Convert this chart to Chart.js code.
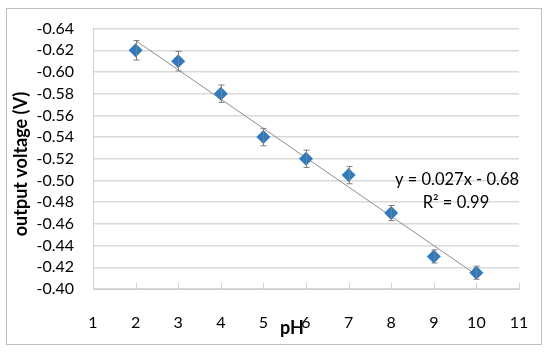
<!DOCTYPE html>
<html>
<head>
<meta charset="utf-8">
<script src="https://cdn.jsdelivr.net/npm/chart.js@4"></script>
<style>
  html, body { margin: 0; padding: 0; background: #fff; }
  #wrap { position: relative; width: 550px; height: 354px; }
</style>
</head>
<body>
<div id="wrap"><canvas id="c" width="550" height="354"></canvas></div>
<script>
// pH vs output voltage, with a linear trendline
const PH = [2, 3, 4, 5, 6, 7, 8, 9, 10];
const VOLTAGE = [-0.62, -0.61, -0.58, -0.54, -0.52, -0.505, -0.47, -0.43, -0.415];
const ERR = [0.009, 0.009, 0.008, 0.008, 0.008, 0.008, 0.007, 0.006, 0.006];
const TREND_X = [2, 10];
const TREND_Y = [-0.629, -0.413];
const EQUATION = 'y = 0.027x - 0.68';
const R2 = 'R² = 0.99';

const FONT = 'Lato, "Open Sans", sans-serif';
const BLUE = '#2f7bbf';

// Outer frame, inside x ticks, error bars and all the loose text.
const extras = {
    id: 'extras',
    beforeDraw(chart) {
        const ctx = chart.ctx;
        ctx.save();
        ctx.strokeStyle = '#bfbfbf';
        ctx.lineWidth = 1;
        ctx.strokeRect(6.5, 8.5, 535, 336);
        ctx.restore();
    },
    afterDatasetsDraw(chart) {
        const ctx = chart.ctx;
        const x = chart.scales.x, y = chart.scales.y;
        const area = chart.chartArea;
        ctx.save();
        // small inside tick marks on x axis
        ctx.strokeStyle = '#d0d0d0';
        ctx.lineWidth = 1;
        for (let v = 1; v <= 11; v++) {
            const px = Math.round(x.getPixelForValue(v)) + 0.5;
            ctx.beginPath();
            ctx.moveTo(px, area.bottom);
            ctx.lineTo(px, area.bottom - 6);
            ctx.stroke();
        }
        // error bars
        ctx.strokeStyle = '#7f7f7f';
        PH.forEach((p, i) => {
            const px = Math.round(x.getPixelForValue(p)) + 0.5;
            const y1 = y.getPixelForValue(VOLTAGE[i] - ERR[i]);
            const y2 = y.getPixelForValue(VOLTAGE[i] + ERR[i]);
            ctx.beginPath();
            ctx.moveTo(px, y1); ctx.lineTo(px, y2);
            ctx.moveTo(px - 3, y1); ctx.lineTo(px + 3, y1);
            ctx.moveTo(px - 3, y2); ctx.lineTo(px + 3, y2);
            ctx.stroke();
        });
        ctx.restore();
    },
    afterDraw(chart) {
        const ctx = chart.ctx;
        ctx.save();
        ctx.fillStyle = '#000';
        ctx.textAlign = 'center';
        ctx.textBaseline = 'middle';
        ctx.font = `16.5px ${FONT}`;
        ctx.fillText(EQUATION, 457, 180);
        ctx.fillText(R2, 456, 203);
        ctx.font = `bold 18px ${FONT}`;
        ctx.fillText('pH', 292, 328);
        ctx.translate(21, 164);
        ctx.rotate(-Math.PI / 2);
        ctx.fillText('output voltage (V)', 0, 0);
        ctx.restore();
    },
};

new Chart(document.getElementById('c'), {
    type: 'scatter',
    data: {
        datasets: [
            {
                label: 'trend',
                type: 'line',
                data: TREND_X.map((v, i) => ({ x: v, y: TREND_Y[i] })),
                borderColor: '#8c8c8c',
                borderWidth: 1,
                pointRadius: 0,
                fill: false,
                order: 2,
            },
            {
                label: 'voltage',
                data: PH.map((v, i) => ({ x: v, y: VOLTAGE[i] })),
                pointStyle: 'rectRot',
                pointRadius: 7,
                backgroundColor: BLUE,
                borderColor: BLUE,
                borderWidth: 0,
                order: 1,
            },
        ],
    },
    options: {
        responsive: false,
        animation: false,
        layout: { padding: { left: 0, right: 31, top: 26, bottom: 0 } },
        scales: {
            x: {
                type: 'linear',
                min: 1, max: 11,
                afterFit: s => { s.height = 65; },
                border: { display: true, color: '#d0d0d0', width: 1 },
                grid: { display: false },
                ticks: { stepSize: 1, autoSkip: false, padding: 16, color: '#000', font: { family: FONT, size: 16 } },
            },
            y: {
                min: -0.64, max: -0.40,
                reverse: true,
                afterFit: s => { s.width = 93; },
                border: { display: true, color: '#d0d0d0', width: 1 },
                grid: { color: '#d9d9d9', lineWidth: 1.5, drawTicks: false },
                ticks: {
                    stepSize: 0.02, autoSkip: false, padding: 19, color: '#000',
                    font: { family: FONT, size: 16 },
                    callback: v => Number(v).toFixed(2),
                },
            },
        },
        plugins: { legend: { display: false }, tooltip: { enabled: false } },
    },
    plugins: [extras],
});
</script>
</body>
</html>
